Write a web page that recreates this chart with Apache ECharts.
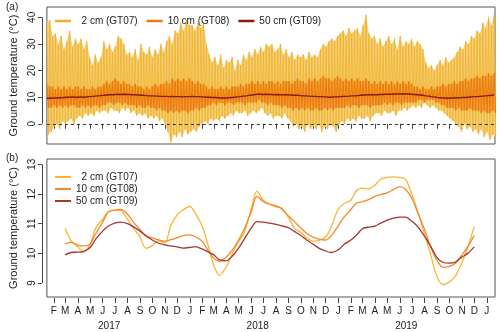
<!DOCTYPE html>
<html>
<head>
<meta charset="utf-8">
<script src="https://cdn.jsdelivr.net/npm/echarts/dist/echarts.min.js"></script>
<style>
  html, body { margin: 0; padding: 0; background: #fff; }
  #main { width: 500px; height: 332px; }
</style>
</head>
<body>
<div id="main"></div>
<script>
// weekly extremes, first week starts 2017-01-15
var weekStart = Date.UTC(2017, 0, 15);

var gt07Max = [38, 39, 33, 34, 30, 33, 28, 31, 35, 29, 32, 30, 32, 28, 31,
  25, 22, 26, 23, 25, 31, 28, 30, 27, 29, 33, 32, 30, 26, 27, 25, 28, 24,
  30, 27, 26, 29, 25, 28, 26, 30, 27, 31, 33, 30, 35, 34, 38, 35, 39, 37,
  37, 35, 38, 36, 38, 30, 26, 23, 25, 22, 26, 21, 24, 23, 25, 20, 24,
  22, 26, 24, 27, 25, 28, 26, 29, 27, 30, 29, 30, 27, 28, 30, 26, 28,
  25, 27, 24, 26, 25, 26, 24, 27, 25, 26, 25, 28, 30, 29, 31, 32, 31, 33,
  34, 35, 33, 36, 34, 35, 36, 33, 37, 41, 34, 32, 33, 30, 32, 29, 31,
  33, 30, 32, 28, 33, 29, 31, 30, 32, 29, 31, 30, 28, 23, 21, 22, 20, 22,
  24, 22, 25, 23, 24, 25, 27, 29, 28, 31, 30, 33, 32, 35, 34, 38, 36, 40, 37, 41];
var gt07Min = [-4, -3, -1, 0, -2, 1, 0, 1, 2, 0, 2, 3, 2, 4, 3,
  4, 3, 5, 4, 5, 5, 4, 6, 5, 5, 4, 6, 5, 6, 4, 5, 3, 4,
  3, 4, 2, 3, 2, 3, 1, 2, 0, -3, -7, -4, -5, -3, -5, -2, -4, -3,
  -2, -3, -1, 0, 1, 0, 2, 1, 2, 1, 3, 2, 3, 4, 3, 5, 4,
  4, 5, 3, 4, 5, 4, 5, 6, 4, 3, 4, 2, 3, 3, 2, 4, 2,
  1, -1, 0, -2, -1, -3, 0, -2, -1, -2, 0, -3, -1, -2, 0, -1, -3, 0,
  1, 0, 2, 1, 2, 1, 3, 2, 2, 3, 1, 3, 4, 4, 3, 5, 4,
  4, 5, 3, 5, 5, 6, 5, 6, 7, 6, 7, 6, 8, 7, 6, 7, 6, 5,
  5, 4, 3, 2, 1, 0, -1, -3, 0, -2, -1, -3, -2, -4, -2, -5, -3, -6, -4, -5];
var gt08Max = [15, 14, 14, 13, 14, 13, 14, 13, 14, 13, 14,
  14, 13, 14, 13, 13, 14, 13, 14, 14,
  15, 16, 15, 16, 17, 16, 15, 16, 15, 15, 14, 15, 14,
  14, 13, 14, 13, 14, 15, 14, 15, 15,
  16, 15, 17, 16, 17, 16, 17, 16, 17, 16, 15, 16, 15,
  15, 14, 13, 14, 13, 13, 14, 13, 14, 13, 14, 14, 14, 15, 14, 15, 15,
  16, 15, 16, 15, 16, 15, 16, 16, 15, 16, 15, 16, 16,
  16, 15, 16, 17, 16, 16, 15, 17, 16, 17, 16, 17, 18, 17, 17, 16, 17, 18,
  17, 16, 17, 16, 17, 16, 17, 16, 16, 17, 16, 15, 16,
  15, 16, 15, 16, 15, 16, 15, 16, 15, 16, 15, 16, 15,
  14, 14, 13, 14, 13, 13, 14, 13, 14,
  14, 15, 14, 15, 15, 16, 15, 16, 16, 17, 16, 17, 17,
  18, 17, 18, 18, 19, 18, 19];
var gt08Min = [6, 6, 7, 6, 7, 6, 7, 6, 7, 7, 6,
  6, 7, 6, 7, 6, 7, 7, 6, 7,
  7, 8, 8, 7, 8, 8, 7, 8, 7, 7, 7, 6, 7,
  6, 6, 7, 6, 6, 5, 6, 5, 5,
  4, 5, 4, 5, 4, 5, 5, 4, 5, 5, 6, 5, 6,
  6, 7, 7, 8, 7, 8, 8, 7, 8, 8, 7, 8, 8, 8, 7, 8, 8,
  8, 8, 9, 8, 8, 7, 8, 7, 7, 7, 6, 7, 6,
  6, 5, 6, 5, 6, 5, 6, 5, 5, 6, 5, 5, 6, 5, 6, 5, 6, 6,
  6, 6, 7, 6, 7, 7, 6, 7, 7, 7, 6, 7, 7,
  7, 7, 8, 7, 8, 7, 8, 8, 7, 8, 8, 8, 8,
  8, 9, 9, 8, 9, 9, 9, 8, 8,
  7, 7, 6, 6, 6, 5, 6, 5, 5, 5, 6, 5, 5,
  5, 4, 5, 4, 4, 5, 4];
var gt09Week = [9.6, 9.6, 9.7, 9.7, 9.8, 9.8, 9.9, 10.0, 10.0, 10.1, 10.0,
  10.0, 10.1, 10.0, 10.1, 10.2, 10.3, 10.4, 10.5, 10.6, 10.7, 10.8, 10.9, 10.9,
  11.0, 11.1, 11.0, 11.1, 11.0, 11.0, 10.9, 10.9, 10.8, 10.7, 10.7, 10.6, 10.5,
  10.5, 10.4, 10.4, 10.3, 10.3, 10.3, 10.2, 10.3, 10.2, 10.2, 10.2, 10.1, 10.2, 10.2,
  10.3, 10.2, 10.2, 10.1, 10.1, 10.0, 10.0, 9.9, 9.9, 9.8, 9.7, 9.7,
  9.7, 9.8, 9.9, 10.0, 10.1, 10.2, 10.4, 10.5, 10.7, 10.8, 11.0, 11.1, 11.1,
  11.0, 11.1, 11.0, 11.0, 10.9, 11.0, 10.9, 10.9, 10.9, 10.8, 10.8, 10.7, 10.7,
  10.6, 10.5, 10.5, 10.4, 10.3, 10.3, 10.2, 10.2, 10.1, 10.1, 10.0, 10.0, 10.1, 10.1,
  10.2, 10.3, 10.3, 10.4, 10.5, 10.5, 10.6, 10.7, 10.8, 10.8, 10.9, 10.9, 10.9,
  10.9, 11.0, 11.0, 11.1, 11.1, 11.1, 11.2, 11.2, 11.2, 11.3, 11.2, 11.2, 11.1,
  11.0, 10.9, 10.8, 10.7, 10.5, 10.4, 10.2, 10.1, 9.9, 9.8, 9.7, 9.7, 9.6,
  9.7, 9.7, 9.8, 9.8, 9.9, 9.9, 10.0, 10.1, 10.2, 10.2, 10.3, 10.4, 10.5,
  10.6, 10.7, 10.8];

// running means, 1st and 15th of each month from 2017-03-01
var gt07Smooth = [10.85, 10.43, 10.22, 10.06, 10.3, 10.85, 11.15, 11.4, 11.46, 11.45,
  11.15, 10.85, 10.55, 10.17, 10.26, 10.42, 10.36, 10.92, 11.3, 11.46,
  11.58, 11.35, 10.9, 10.28, 9.6, 9.26, 9.55, 9.98, 10.4, 10.7,
  11.5, 12.1, 11.78, 11.67, 11.57, 11.52, 11.2, 10.85, 10.7, 10.52,
  10.41, 10.44, 10.55, 10.9, 11.5, 11.67, 11.8, 12.12, 12.2, 12.17,
  12.3, 12.5, 12.56, 12.58, 12.56, 12.5, 11.98, 11.42, 10.65, 10.0,
  9.2, 8.95, 9.04, 9.22, 9.7, 10.2, 10.9];
var gt08Smooth = [10.31, 10.38, 10.28, 10.25, 10.32, 10.66, 11.05, 11.4, 11.46, 11.48,
  11.32, 11.06, 10.8, 10.58, 10.52, 10.46, 10.41, 10.46, 10.52, 10.6,
  10.62, 10.56, 10.4, 10.1, 9.84, 9.73, 9.88, 10.1, 10.45, 10.82,
  11.4, 11.92, 11.74, 11.66, 11.6, 11.5, 11.25, 11.07, 10.85, 10.68,
  10.54, 10.48, 10.45, 10.6, 10.93, 11.22, 11.48, 11.7, 11.74, 11.8,
  11.92, 11.98, 12.04, 12.14, 12.25, 12.16, 11.85, 11.38, 10.8, 10.25,
  9.75, 9.53, 9.56, 9.66, 9.95, 10.23, 10.6];
var gt09Smooth = [9.95, 10.03, 10.04, 10.06, 10.2, 10.48, 10.75, 10.92, 11.02, 11.05,
  11.0, 10.9, 10.75, 10.6, 10.45, 10.35, 10.29, 10.25, 10.22, 10.18,
  10.2, 10.23, 10.14, 10.05, 9.95, 9.78, 9.75, 9.9, 10.18, 10.48,
  10.85, 11.07, 11.05, 11.02, 10.98, 10.93, 10.86, 10.74, 10.6, 10.45,
  10.3, 10.17, 10.08, 10.03, 10.12, 10.3, 10.45, 10.62, 10.83, 10.88,
  10.92, 11.02, 11.12, 11.18, 11.22, 11.22, 11.08, 10.9, 10.57, 10.26,
  9.85, 9.7, 9.67, 9.7, 9.88, 10.0, 10.22];

var sensorIds = ['GT07', 'GT08', 'GT09'];
var depthNames = ['  2 cm (GT07)', '10 cm (GT08)', '50 cm (GT09)'];
var monthLetters = ['J', 'F', 'M', 'A', 'M', 'J', 'J', 'A', 'S', 'O', 'N', 'D'];
var yearLabels = [2017, 2018, 2019];
var ticksA = [0, 10, 20, 30, 40];
var ticksB = [9, 10, 11, 12, 13];

var DAY = 86400000;
var xMin = Date.UTC(2017, 0, 15);
var xMax = Date.UTC(2020, 0, 21);
var font = 'Liberation Sans, Arial, Helvetica, sans-serif';
var colA = ['#EFB22A', '#EC780A', '#8A1A0C'];
var bandA = ['#F6D17C', '#F29C48'];
var colB = ['#F6B534', '#F08A2C', '#A8342F'];

var monthTicks = [];
for (var m = 0; m < 36; m++) monthTicks.push(Date.UTC(2017, 1 + m, 1));
var yearTicks = yearLabels.map(function (y) { return Date.UTC(y, 5, 17); });

function wk(k) { return weekStart + k * 7 * DAY; }

// daily max/min drawn as one line going up and down each week
function zigzag(hi, lo) {
  var out = [];
  for (var k = 0; k < hi.length; k++) {
    out.push([wk(k), hi[k]]);
    out.push([wk(k) + 3.5 * DAY, lo[k]]);
  }
  return out;
}
// light band under the zigzag so the gaps are filled
function band(hi, lo, color) {
  return {
    type: 'custom', xAxisIndex: 0, yAxisIndex: 0, silent: true,
    data: [[xMin, 0]],
    renderItem: function (params, api) {
      var pts = [];
      for (var k = 0; k < hi.length; k++) pts.push(api.coord([wk(k), hi[k]]));
      for (var j = lo.length - 1; j >= 0; j--) pts.push(api.coord([wk(j) + 3.5 * DAY, lo[j]]));
      return { type: 'polygon', shape: { points: pts }, style: { fill: color } };
    }
  };
}
function weekly(v) {
  return v.map(function (d, k) { return [wk(k), d]; });
}
function halfMonthly(v) {
  return v.map(function (d, i) {
    return [Date.UTC(2017, 2 + Math.floor(i / 2), i % 2 ? 15 : 1), d];
  });
}
function legendName(n) { return depthNames[sensorIds.indexOf(n.slice(2))]; }

var chart = echarts.init(document.getElementById('main'));

function xAx(grid, labels) {
  return {
    gridIndex: grid, type: 'value', min: xMin, max: xMax, offset: 1,
    axisLine: { show: false },
    axisTick: { show: true, length: 5, customValues: monthTicks, lineStyle: { color: '#444' } },
    axisLabel: {
      show: labels, customValues: monthTicks, margin: 8, fontSize: 10, color: '#222', fontFamily: font,
      formatter: function (v) { return monthLetters[new Date(v).getUTCMonth()]; }
    },
    splitLine: { show: false }
  };
}
function yAx(grid, min, max, ticks) {
  return {
    gridIndex: grid, type: 'value', min: min, max: max, offset: 5,
    axisLine: { show: false },
    axisTick: { show: true, length: 4, customValues: ticks, lineStyle: { color: '#444' } },
    axisLabel: { customValues: ticks, rotate: 90, margin: 5, fontSize: 10, color: '#222', fontFamily: font },
    splitLine: { show: false },
    name: 'Ground temperature (\u00b0C)', nameLocation: 'middle', nameGap: 20, nameRotate: 90,
    nameTextStyle: { fontSize: 11, color: '#222', fontFamily: font }
  };
}
function legendTxt() { return { fontSize: 10, color: '#222', fontFamily: font }; }

var option = {
  animation: false,
  backgroundColor: '#fff',
  title: [
    { text: '(a)', left: 1, top: -3, textStyle: { fontSize: 10, fontWeight: 'normal', color: '#222', fontFamily: font } },
    { text: '(b)', left: 1, top: 148, textStyle: { fontSize: 10, fontWeight: 'normal', color: '#222', fontFamily: font } }
  ],
  grid: [
    { left: 36, right: 5, top: 7, height: 137, show: true, borderColor: '#555', borderWidth: 1, backgroundColor: 'transparent' },
    { left: 36, right: 5, top: 159, height: 138, show: true, borderColor: '#555', borderWidth: 1, backgroundColor: 'transparent' }
  ],
  legend: [
    {
      data: ['a-GT07', 'a-GT08', 'a-GT09'], left: 50, top: 11, icon: 'rect', itemWidth: 16, itemHeight: 2.5, itemGap: 9,
      selectedMode: false, formatter: legendName, textStyle: legendTxt()
    },
    {
      data: ['b-GT07', 'b-GT08', 'b-GT09'], orient: 'vertical', left: 50, top: 167, icon: 'rect', itemWidth: 16, itemHeight: 2, itemGap: 2,
      selectedMode: false, formatter: legendName, textStyle: legendTxt()
    }
  ],
  xAxis: [
    xAx(0, false),
    xAx(1, true),
    {
      gridIndex: 1, type: 'value', min: xMin, max: xMax, position: 'bottom', offset: 16,
      axisLine: { show: false }, axisTick: { show: false }, splitLine: { show: false },
      axisLabel: {
        customValues: yearTicks, margin: 8, fontSize: 10, color: '#222', fontFamily: font,
        formatter: function (v) { return String(new Date(v).getUTCFullYear()); }
      }
    }
  ],
  yAxis: [yAx(0, -7.6, 43.9, ticksA), yAx(1, 8.53, 13.18, ticksB)],
  series: [
    band(gt07Max, gt07Min, bandA[0]),
    {
      name: 'a-GT07', type: 'line', xAxisIndex: 0, yAxisIndex: 0, symbol: 'none',
      data: zigzag(gt07Max, gt07Min), lineStyle: { width: 1, color: colA[0], opacity: 0.8 }, itemStyle: { color: colA[0] }
    },
    band(gt08Max, gt08Min, bandA[1]),
    {
      name: 'a-GT08', type: 'line', xAxisIndex: 0, yAxisIndex: 0, symbol: 'none',
      data: zigzag(gt08Max, gt08Min), lineStyle: { width: 1, color: colA[1] }, itemStyle: { color: colA[1] }
    },
    {
      name: 'a-GT09', type: 'line', xAxisIndex: 0, yAxisIndex: 0, symbol: 'none',
      data: weekly(gt09Week), lineStyle: { width: 1.4, color: colA[2] }, itemStyle: { color: colA[2] },
      markLine: {
        silent: true, symbol: 'none', label: { show: false },
        lineStyle: { type: [3, 3], color: '#333', width: 1 },
        data: [{ yAxis: 0 }]
      }
    },
    {
      name: 'b-GT07', type: 'line', xAxisIndex: 1, yAxisIndex: 1, symbol: 'none', smooth: 0.3,
      data: halfMonthly(gt07Smooth), lineStyle: { width: 1.3, color: colB[0] }, itemStyle: { color: colB[0] }
    },
    {
      name: 'b-GT08', type: 'line', xAxisIndex: 1, yAxisIndex: 1, symbol: 'none', smooth: 0.3,
      data: halfMonthly(gt08Smooth), lineStyle: { width: 1.3, color: colB[1] }, itemStyle: { color: colB[1] }
    },
    {
      name: 'b-GT09', type: 'line', xAxisIndex: 1, yAxisIndex: 1, symbol: 'none', smooth: 0.3,
      data: halfMonthly(gt09Smooth), lineStyle: { width: 1.3, color: colB[2] }, itemStyle: { color: colB[2] }
    }
  ]
};
chart.setOption(option);

// R style y axis line, only from first to last tick
function tickSpan(i, ticks) {
  var x = Math.round(chart.convertToPixel({ xAxisIndex: i === 0 ? 0 : 1 }, xMin)) - 5 + 0.5;
  var y1 = chart.convertToPixel({ yAxisIndex: i }, ticks[0]);
  var y2 = chart.convertToPixel({ yAxisIndex: i }, ticks[ticks.length - 1]);
  return { type: 'line', shape: { x1: x, y1: y1, x2: x, y2: y2 }, style: { stroke: '#444', lineWidth: 1 } };
}
chart.setOption({ graphic: [tickSpan(0, ticksA), tickSpan(1, ticksB)] });
</script>
</body>
</html>
